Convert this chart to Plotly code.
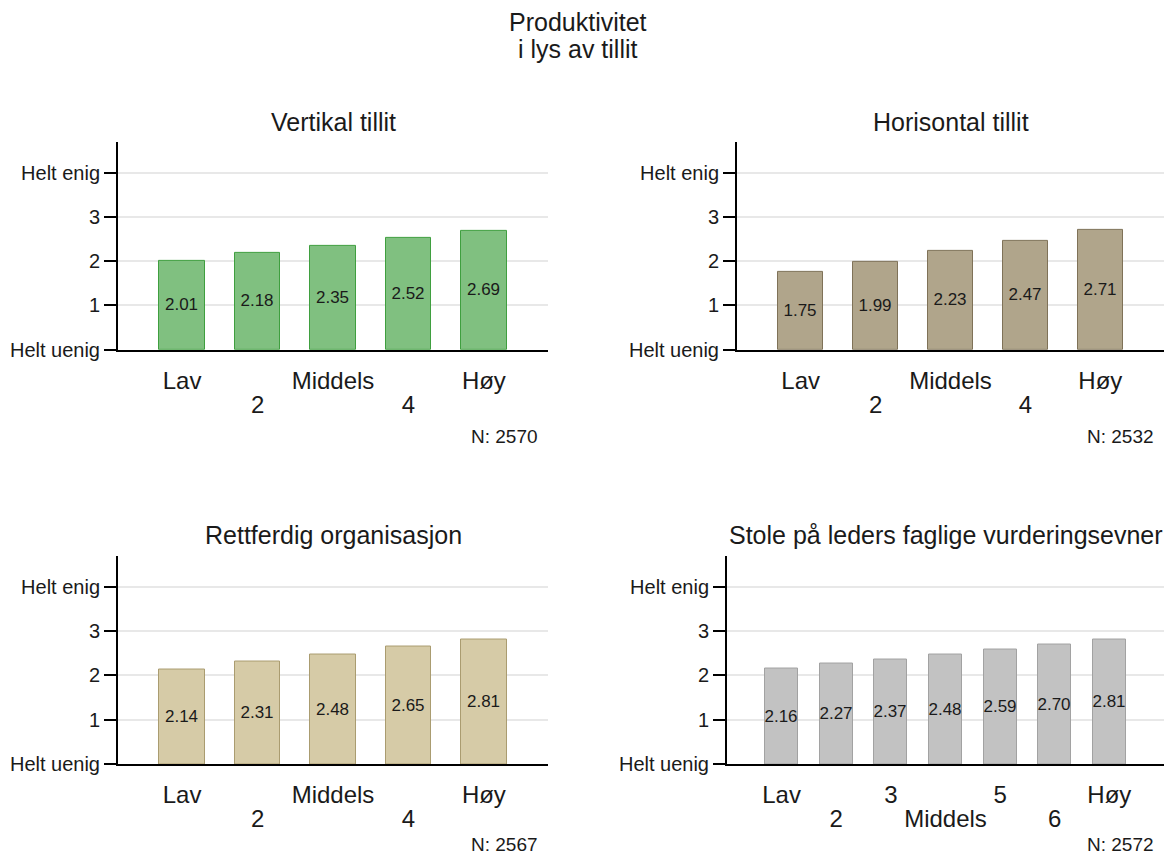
import plotly.graph_objects as go

# Mean productivity score per trust level
labels_5 = ["Lav", "2", "Middels", "4", "Høy"]
labels_7 = ["Lav", "2", "3", "Middels", "5", "6", "Høy"]

vertikal = [2.01, 2.18, 2.35, 2.52, 2.69]
horisontal = [1.75, 1.99, 2.23, 2.47, 2.71]
rettferdig = [2.14, 2.31, 2.48, 2.65, 2.81]
stole = [2.16, 2.27, 2.37, 2.48, 2.59, 2.70, 2.81]

panel_titles = ["Vertikal tillit", "Horisontal tillit",
                "Rettferdig organisasjon", "Stole på leders faglige vurderingsevner"]
n_values = [2570, 2532, 2567, 2572]
main_title = ["Produktivitet", "i lys av tillit"]

y_tickvals = [0, 1, 2, 3, 4]
y_ticktext = ["Helt uenig", "1", "2", "3", "Helt enig"]

W, H = 1169, 857
FONT = "Liberation Sans, Arial, sans-serif"
TXT = "#1a1a1a"
VSCALE = 0.988  # vertical layout scale


def px_x(v):
    return v / W


def px_y(v):
    return 1 - (v / VSCALE) / H


panels = [
    dict(values=vertikal, labels=labels_5, fill="#80c080", line="#3f9f3f",
         xdom=(118, 548), ydom=(350, 142), xr=(0.15, 5.85)),
    dict(values=horisontal, labels=labels_5, fill="#b0a58b", line="#7f7258",
         xdom=(737, 1164), ydom=(350, 142), xr=(0.15, 5.85)),
    dict(values=rettferdig, labels=labels_5, fill="#d6cba7", line="#aa9c70",
         xdom=(118, 548), ydom=(765, 556), xr=(0.15, 5.85)),
    dict(values=stole, labels=labels_7, fill="#c2c2c2", line="#a2a2a2",
         xdom=(727, 1164), ydom=(765, 556), xr=(0.0, 8.0)),
]

fig = go.Figure()
layout = {}
annotations = []

for i, p in enumerate(panels):
    k = i + 1
    xa_key = "xaxis" if k == 1 else f"xaxis{2 * k - 1}"
    xb_key = f"xaxis{2 * k}"
    ya_key = "yaxis" if k == 1 else f"yaxis{k}"
    xa_ref = "x" if k == 1 else f"x{2 * k - 1}"
    xb_ref = f"x{2 * k}"
    ya_ref = "y" if k == 1 else f"y{k}"

    cats = list(range(1, len(p["values"]) + 1))
    fig.add_trace(go.Bar(
        x=cats, y=p["values"], width=0.6,
        marker=dict(color=p["fill"], line=dict(color=p["line"], width=1)),
        text=[f"{v:.2f}" for v in p["values"]],
        textposition="inside", insidetextanchor="middle", textangle=0,
        constraintext="none",
        textfont=dict(family=FONT, size=17, color=TXT),
        xaxis=xa_ref, yaxis=ya_ref, showlegend=False, hoverinfo="skip",
    ))
    # invisible point so the second-row label axis is drawn
    fig.add_trace(go.Scatter(
        x=[p["xr"][0]], y=[0], mode="markers", marker=dict(opacity=0),
        xaxis=xb_ref, yaxis=ya_ref, showlegend=False, hoverinfo="skip",
    ))

    xdom = [px_x(p["xdom"][0]), px_x(p["xdom"][1])]
    ydom = [px_y(p["ydom"][0]), px_y(p["ydom"][1])]

    row1 = [c for c in cats if c % 2 == 1]
    row2 = [c for c in cats if c % 2 == 0]
    layout[xa_key] = dict(
        domain=xdom, range=list(p["xr"]), anchor=ya_ref,
        tickmode="array", tickvals=row1,
        ticktext=[p["labels"][c - 1] for c in row1],
        ticks="", showgrid=False, zeroline=False,
        showline=True, linecolor="black", linewidth=2,
        tickfont=dict(family=FONT, size=24, color=TXT),
        ticklabelstandoff=8, fixedrange=True,
    )
    layout[xb_key] = dict(
        domain=xdom, range=list(p["xr"]), anchor=ya_ref, overlaying=xa_ref,
        side="bottom",
        tickmode="array", tickvals=row2,
        ticktext=[p["labels"][c - 1] for c in row2],
        ticks="", showgrid=False, zeroline=False, showline=False,
        tickfont=dict(family=FONT, size=24, color=TXT),
        ticklabelstandoff=38, fixedrange=True,
    )
    layout[ya_key] = dict(
        domain=ydom, range=[0, 4.7], anchor=xa_ref,
        tickmode="array", tickvals=y_tickvals, ticktext=y_ticktext,
        ticks="outside", ticklen=12, tickwidth=2, tickcolor="black",
        showline=True, linecolor="black", linewidth=2,
        showgrid=True, gridcolor="#e8e8e8", gridwidth=2, zeroline=False,
        tickfont=dict(family=FONT, size=20, color=TXT),
        fixedrange=True,
    )

    # panel title
    tx = (p["xdom"][0] + p["xdom"][1]) / 2
    ty = 122 if p["ydom"][0] < 500 else 535
    annotations.append(dict(
        text=panel_titles[i], x=px_x(tx), y=px_y(ty), xref="paper", yref="paper",
        xanchor="center", yanchor="middle", showarrow=False,
        font=dict(family=FONT, size=25, color=TXT),
    ))
    # sample size note
    ny = 437 if p["ydom"][0] < 500 else 845
    annotations.append(dict(
        text=f"N: {n_values[i]}", x=px_x(p["xdom"][1] - 8), y=px_y(ny),
        xref="paper", yref="paper", xanchor="right", yanchor="middle",
        showarrow=False, font=dict(family=FONT, size=19, color=TXT),
    ))

# overall title, two lines
for line_text, ly in zip(main_title, [22, 49]):
    annotations.append(dict(
        text=line_text, x=px_x(578), y=px_y(ly), xref="paper", yref="paper",
        xanchor="center", yanchor="middle", showarrow=False,
        font=dict(family=FONT, size=25, color=TXT),
    ))

fig.update_layout(
    width=W, height=H,
    margin=dict(l=0, r=0, t=0, b=0),
    paper_bgcolor="white", plot_bgcolor="white",
    annotations=annotations,
    bargap=0,
    **layout,
)

fig.write_html("out.html")
